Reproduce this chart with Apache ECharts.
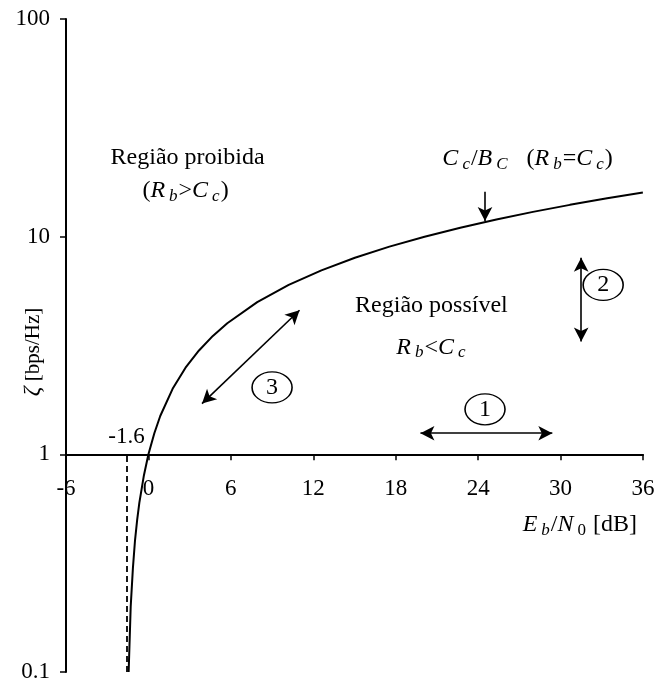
<!DOCTYPE html>
<html>
<head>
<meta charset="utf-8">
<script src="https://cdn.jsdelivr.net/npm/echarts@6/dist/echarts.min.js"></script>
<style>
  html, body { margin: 0; padding: 0; background: #ffffff; }
  #chart { width: 659px; height: 684px; }
</style>
</head>
<body>
<div id="chart"></div>
<script>
// Capacity bound: spectral efficiency (bps/Hz) against Eb/N0 (dB)
const ebN0dB = [-1.44, -1.29, -1.13, -0.98, -0.82, -0.66, -0.33, 0.00, 0.43, 0.86, 1.76, 2.70, 3.68, 4.69, 5.74, 7.92, 10.21, 12.59, 15.03, 17.54, 20.10, 22.70, 25.33, 27.99, 30.68, 33.39, 35.99];
const zeta   = [0.1, 0.2, 0.3, 0.4, 0.5, 0.6, 0.8, 1.0, 1.25, 1.5, 2.0, 2.5, 3.0, 3.5, 4.0, 5.0, 6.0, 7.0, 8.0, 9.0, 10.0, 11.0, 12.0, 13.0, 14.0, 15.0, 15.95];

// Shannon limit (minimum Eb/N0) and axis ranges
const shannonLimitDB = -1.6;
const xTickValues = [-6, 0, 6, 12, 18, 24, 30, 36];
const yTickLabels = ['0.1', '1', '10', '100'];

// Annotation anchors in data units [Eb/N0 dB, bps/Hz]
const arrowRate = [[19.8, 1.25], [29.4, 1.25]];
const arrowBandwidth = [[31.5, 8.0], [31.5, 3.3]];
const arrowTradeoff = [[3.9, 1.71], [11.0, 4.59]];
const arrowCurve = [[24.5, 16.1], [24.5, 11.8]];
const circleLabels = [
  { name: '1', coord: [24.5, 1.61] },
  { name: '2', coord: [33.1, 6.0] },
  { name: '3', coord: [9.0, 2.03] }
];
const textLabels = [
  { text: 'Região proibida', coord: [2.85, 23.1] },
  { text: '({i|R}{s|b}>{i|C}{s|c})', coord: [2.7, 16.2] },
  { text: '{i|C}{s|c}/{i|B}{s|C}   ({i|R}{s|b}={i|C}{s|c})', coord: [27.6, 22.8] },
  { text: 'Região possível', coord: [20.6, 4.8] },
  { text: '{i|R}{s|b}<{i|C}{s|c}', coord: [20.6, 3.1] }
];

const FONT = '"Liberation Serif", "DejaVu Serif", serif';
const richStyles = {
  i: { fontFamily: FONT, fontSize: 24, fontStyle: 'italic', color: '#000', lineHeight: 28 },
  s: { fontFamily: FONT, fontSize: 17, fontStyle: 'italic', color: '#000', lineHeight: 17, padding: [11, 1, 0, 4] },
  u: { fontFamily: FONT, fontSize: 17, color: '#000', lineHeight: 17, padding: [11, 1, 0, 4] }
};

const W = 659, H = 684;
const gridTop = 19, gridBottom = 12;
const gridHeight = H - gridTop - gridBottom;

const chart = echarts.init(document.getElementById('chart'), null, { renderer: 'canvas' });

const curveData = ebN0dB.map((x, k) => [x, zeta[k]]);

const option = {
  animation: false,
  backgroundColor: '#ffffff',
  textStyle: { fontFamily: FONT, color: '#000' },
  grid: { left: 66, right: 16, top: gridTop, bottom: gridBottom, containLabel: false },
  xAxis: {
    type: 'value',
    min: xTickValues[0],
    max: xTickValues[xTickValues.length - 1],
    interval: xTickValues[1] - xTickValues[0],
    position: 'bottom',
    // the horizontal axis crosses the vertical one at 1 bps/Hz
    offset: -gridHeight / 3,
    axisLine: { onZero: false, lineStyle: { color: '#000', width: 2 } },
    axisTick: { show: true, inside: false, length: 6, lineStyle: { color: '#000', width: 1.5 } },
    axisLabel: { color: '#000', fontFamily: FONT, fontSize: 23, margin: 23, formatter: v => String(v) },
    splitLine: { show: false }
  },
  yAxis: {
    type: 'log',
    logBase: 10,
    min: 0.1,
    max: 100,
    position: 'left',
    axisLine: { show: true, onZero: false, lineStyle: { color: '#000', width: 2 } },
    axisTick: { show: true, inside: false, length: 6, lineStyle: { color: '#000', width: 1.5 } },
    axisLabel: {
      color: '#000', fontFamily: FONT, fontSize: 23, margin: 16,
      formatter: v => {
        const k = Math.round(Math.log10(v)) + 1;
        return yTickLabels[k] !== undefined ? yTickLabels[k] : String(v);
      }
    },
    minorTick: { show: false },
    splitLine: { show: false }
  },
  series: [
    {
      type: 'line',
      data: curveData,
      showSymbol: false,
      symbol: 'none',
      smooth: false,
      lineStyle: { color: '#000', width: 2 },
      z: 3,
      markLine: {
        silent: true,
        symbol: ['arrow', 'arrow'],
        symbolSize: [11, 14],
        lineStyle: { color: '#000', width: 1.6, type: 'solid' },
        label: { show: false },
        data: [
          [{ coord: arrowRate[0] }, { coord: arrowRate[1] }],
          [{ coord: arrowBandwidth[0] }, { coord: arrowBandwidth[1] }],
          [{ coord: arrowTradeoff[0] }, { coord: arrowTradeoff[1] }],
          [{ coord: arrowCurve[0], symbol: 'none' }, { coord: arrowCurve[1], symbol: 'arrow' }],
          [
            { coord: [shannonLimitDB, 0.1], symbol: 'none',
              lineStyle: { type: [6, 4], width: 1.8 } },
            { coord: [shannonLimitDB, 1], symbol: 'none',
              label: {
                show: true, position: 'end', distance: 6,
                formatter: String(shannonLimitDB),
                color: '#000', fontFamily: FONT, fontSize: 23
              } }
          ]
        ]
      },
      markPoint: {
        silent: true,
        data: circleLabels.map(c => ({
          name: c.name,
          coord: c.coord,
          symbol: 'circle',
          symbolSize: [40, 31],
          itemStyle: { color: '#fff', borderColor: '#000', borderWidth: 1.4 },
          label: { show: true, position: 'inside', formatter: c.name, color: '#000', fontFamily: FONT, fontSize: 24 }
        })).concat(textLabels.map(t => ({
          coord: t.coord,
          symbol: 'circle',
          symbolSize: 0,
          itemStyle: { color: 'transparent' },
          label: {
            show: true, position: 'inside', formatter: t.text,
            color: '#000', fontFamily: FONT, fontSize: 24, lineHeight: 28,
            rich: richStyles
          }
        })))
      }
    }
  ],
  graphic: [
    {
      type: 'text',
      x: 33, y: 352,
      rotation: Math.PI / 2,
      style: {
        text: '{i|ζ} [bps/Hz]',
        fontFamily: FONT, fontSize: 21, fill: '#000',
        align: 'center', verticalAlign: 'middle',
        rich: {
          i: { fontFamily: FONT, fontSize: 24, fontStyle: 'italic', fill: '#000' }
        }
      }
    },
    {
      type: 'text',
      x: 637, y: 525,
      style: {
        text: '{i|E}{s|b}/{i|N}{u|0} [dB]',
        fontFamily: FONT, fontSize: 24, fill: '#000', lineHeight: 28,
        align: 'right', verticalAlign: 'middle',
        rich: richStyles
      }
    }
  ]
};

chart.setOption(option);
</script>
</body>
</html>
